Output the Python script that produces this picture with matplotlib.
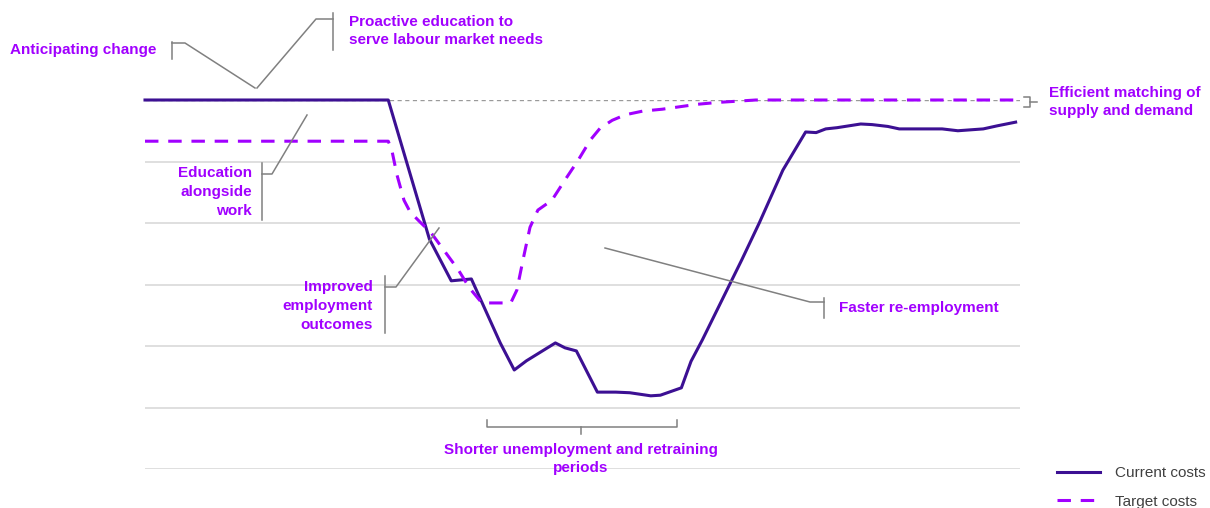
import matplotlib
matplotlib.use("Agg")
import matplotlib.pyplot as plt
from matplotlib.lines import Line2D

# time axis runs 0..100, cost axis 0..6 (6 = efficient level)
current_x = [0, 27.8, 32.5, 35.0, 37.3, 40.6, 42.2, 43.6, 46.9, 48.0, 49.3, 51.7, 53.8,
             55.4, 57.8, 58.9, 61.3, 62.4, 63.7, 68.2, 70.2, 72.9, 75.5, 76.7, 77.8,
             79.1, 81.8, 83.1, 84.9, 86.2, 91.1, 92.9, 95.8, 97.4, 99.5]
current_y = [6.0, 6.0, 3.74, 3.06, 3.09, 2.05, 1.61, 1.76, 2.05, 1.97, 1.92, 1.25, 1.25,
             1.24, 1.19, 1.20, 1.32, 1.75, 2.10, 3.40, 4.0, 4.86, 5.48, 5.47, 5.53,
             5.55, 5.61, 5.60, 5.57, 5.53, 5.53, 5.50, 5.53, 5.58, 5.64]

target_x = [0, 27.8, 28.2, 28.8, 29.6, 30.3, 31.4, 32.7, 34.3, 35.8, 37.1, 38.5, 41.8,
            42.5, 43.2, 44.0, 44.9, 46.5, 48.0, 49.5, 50.9, 52.0, 53.4, 54.9, 56.9,
            59.1, 63.1, 65.4, 69.8, 99.5]
target_y = [5.33, 5.33, 5.19, 4.78, 4.37, 4.18, 4.02, 3.84, 3.53, 3.24, 2.94, 2.70, 2.70,
            2.91, 3.40, 3.93, 4.21, 4.37, 4.70, 5.02, 5.35, 5.54, 5.67, 5.76, 5.82,
            5.85, 5.93, 5.96, 6.0, 6.0]

series_names = ["Current costs", "Target costs"]
grid_levels = [0, 1, 2, 3, 4, 5]
top_level = 6

DARK = "#3c1093"
BRIGHT = "#a100ff"
LEADER = "#808080"

W, H = 1210, 508
fig = plt.figure(figsize=(W / 100, H / 100), dpi=100)
ax = fig.add_axes([145 / W, (H - 469) / H, 875 / W, 369 / H])
ax.set_xlim(0, 100)
ax.set_ylim(0, 6)
for s in ax.spines.values():
    s.set_visible(False)
ax.set_xticks([])
ax.set_yticks(grid_levels)
ax.tick_params(left=False, labelleft=False)
ax.yaxis.grid(True, color="#dcdcdc", lw=1.3)
ax.set_axisbelow(True)
ax.axhline(top_level, color="#9a9a9a", lw=1.0, ls=(0, (3, 2.5)), zorder=1)

l1, = ax.plot(current_x, current_y, color=DARK, lw=2.2, zorder=3,
              solid_joinstyle="round", clip_on=False)
l2, = ax.plot(target_x, target_y, color=BRIGHT, lw=2.2, zorder=4,
              dashes=(4.4, 3.2), clip_on=False)


def P(px, py):
    return px / W, 1 - py / H


def leader(pts):
    xs = [p[0] / W for p in pts]
    ys = [1 - p[1] / H for p in pts]
    fig.add_artist(Line2D(xs, ys, color=LEADER, lw=1.1, transform=fig.transFigure))


def label(px, py, s, ha="left", ma=None):
    fig.text(*P(px, py), s, ha=ha, va="center", ma=ma or ha, color=BRIGHT,
             fontsize=11, fontweight="bold", family="Liberation Sans", linespacing=1.45)


# Anticipating change
label(10, 50, "Anticipating change")
leader([(172, 42), (172, 59)])
leader([(172, 43), (185, 43), (255, 88)])

# Proactive education
label(349, 31, "Proactive education to\nserve labour market needs")
leader([(333, 13), (333, 50)])
leader([(333, 19), (316, 19), (257, 88)])

# Education alongside work
label(252, 192, "Education\nalongside\nwork", ha="right")
leader([(262, 163), (262, 220)])
leader([(262, 174), (272, 174), (307, 115)])

# Improved employment outcomes
label(373, 306, "Improved\nemployment\noutcomes", ha="right")
leader([(385, 276), (385, 333)])
leader([(385, 287), (396, 287), (439, 228)])

# Faster re-employment
label(839, 308, "Faster re-employment")
leader([(824, 298), (824, 318)])
leader([(824, 302), (810, 302), (605, 248)])

# Efficient matching
label(1049, 102, "Efficient matching of\nsupply and demand")
leader([(1024, 97), (1030, 97), (1030, 107), (1024, 107)])
leader([(1030, 102), (1037, 102)])

# Shorter unemployment
label(581, 459, "Shorter unemployment and retraining\nperiods", ha="center")
leader([(487, 420), (487, 427), (677, 427), (677, 420)])
leader([(581, 427), (581, 434)])

fig.legend([l1, l2], series_names, loc="center left",
           bbox_to_anchor=P(1057, 487.5), frameon=False, borderpad=0,
           borderaxespad=0, handlelength=2.8, handletextpad=1.0, labelspacing=0.95,
           prop={"family": "Liberation Sans", "size": 11}, labelcolor="#404040")

fig.savefig("out.png", dpi=100)
